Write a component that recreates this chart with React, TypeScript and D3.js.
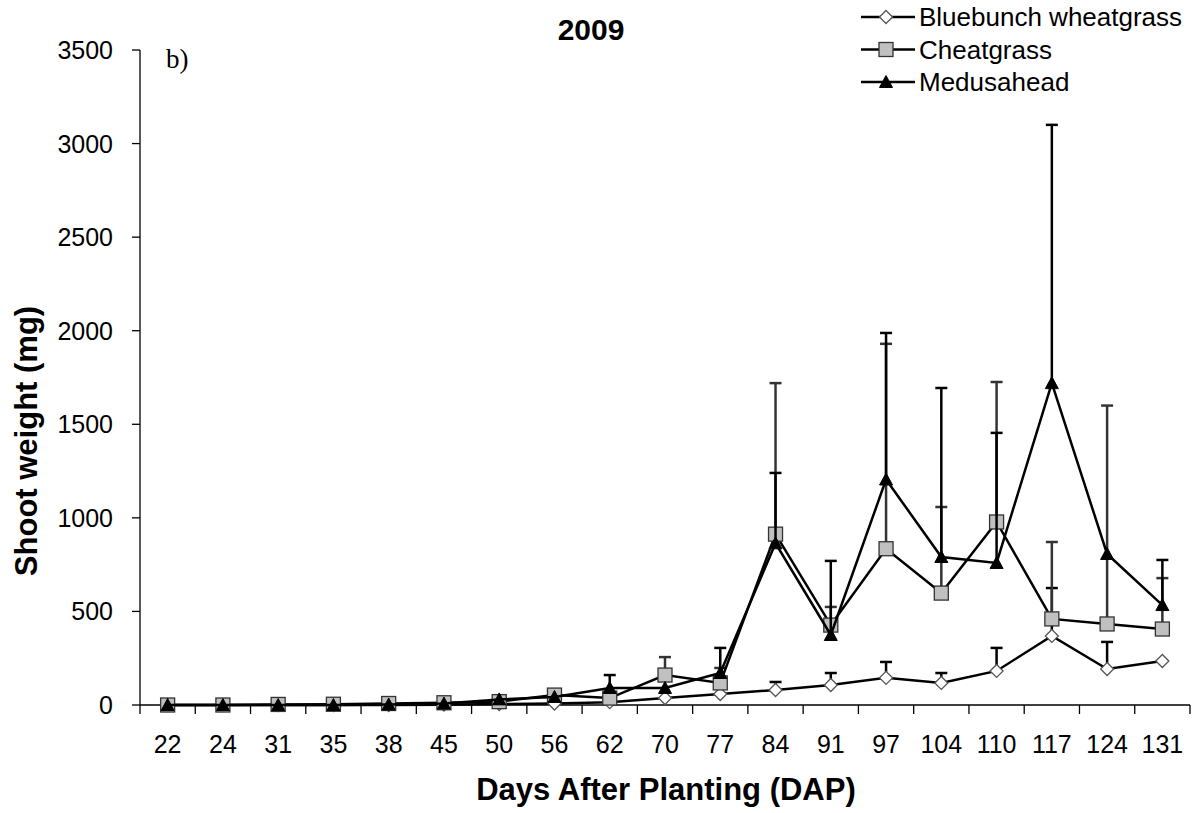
import React from "react";
import * as d3 from "d3";

// Days after planting (categorical x axis)
const days = ["22", "24", "31", "35", "38", "45", "50", "56", "62", "70", "77", "84", "91", "97", "104", "110", "117", "124", "131"];

// Mean shoot weight (mg) per species
const bluebunch = [0, 0, 0, 0, 0, 2, 5, 8, 15, 37, 59, 80, 107, 145, 118, 182, 369, 192, 235];
const cheatgrass = [0, 0, 3, 4, 8, 12, 18, 53, 37, 160, 118, 913, 427, 835, 598, 978, 460, 433, 406];
const medusahead = [0, 0, 0, 0, 3, 8, 30, 43, 91, 91, 171, 864, 374, 1205, 791, 759, 1720, 807, 534];

// Standard errors (plotted as upward bars only)
const bluebunchSE = [0, 0, 0, 0, 0, 0, 0, 0, 0, 0, 0, 43, 64, 85, 53, 123, 256, 145, 0];
const cheatgrassSE = [0, 0, 0, 0, 0, 0, 0, 0, 0, 96, 80, 807, 97, 1095, 460, 748, 411, 1167, 272];
const medusaheadSE = [0, 0, 0, 0, 0, 0, 0, 0, 69, 0, 134, 376, 396, 783, 903, 695, 1380, 0, 241];

const yTicks = [0, 500, 1000, 1500, 2000, 2500, 3000, 3500];

const FONT = "'Liberation Sans', Arial, sans-serif";

type Series = {
  name: string;
  values: number[];
  se: number[];
  marker: "diamond" | "square" | "triangle";
  errColor: string;
};

const series: Series[] = [
  { name: "Bluebunch wheatgrass", values: bluebunch, se: bluebunchSE, marker: "diamond", errColor: "#000" },
  { name: "Cheatgrass", values: cheatgrass, se: cheatgrassSE, marker: "square", errColor: "#333" },
  { name: "Medusahead", values: medusahead, se: medusaheadSE, marker: "triangle", errColor: "#000" },
];

function Marker({ kind, x, y }: { kind: Series["marker"]; x: number; y: number }) {
  if (kind === "diamond") {
    const r = 6.5;
    return (
      <path
        d={`M${x},${y - r}L${x + r},${y}L${x},${y + r}L${x - r},${y}Z`}
        fill="#fff"
        stroke="#555"
        strokeWidth={1.3}
      />
    );
  }
  if (kind === "square") {
    const s = 14;
    return <rect x={x - s / 2} y={y - s / 2} width={s} height={s} fill="#c0c0c0" stroke="#333" strokeWidth={1.3} />;
  }
  const h = 11;
  const w = 6.5;
  return <path d={`M${x},${y - h / 2 - 1}L${x + w},${y + h / 2}L${x - w},${y + h / 2}Z`} fill="#000" stroke="#000" strokeWidth={1} />;
}

export default function App() {
  const width = 1199;
  const height = 813;
  const left = 140;
  const right = 1190;
  const top = 50;
  const bottom = 705;

  const x = d3.scaleBand<string>().domain(days).range([left, right]).paddingInner(0).paddingOuter(0);
  const y = d3.scaleLinear().domain([0, 3500]).range([bottom, top]);
  const cx = (d: string) => (x(d) as number) + x.bandwidth() / 2;

  const line = d3
    .line<number>()
    .x((_, i) => cx(days[i]))
    .y((v) => y(v));

  const boundaries = days.map((d) => x(d) as number).concat([right]);

  return (
    <svg width={width} height={height} style={{ position: "absolute", left: 0, top: 0, background: "#fff" }}>
      <rect x={0} y={0} width={width} height={height} fill="#fff" />

      {/* Title and panel letter */}
      <text x={591} y={40} textAnchor="middle" fontFamily={FONT} fontWeight="bold" fontSize={30}>
        2009
      </text>
      <text x={166} y={68} fontFamily="'Liberation Serif', 'Times New Roman', serif" fontSize={27}>
        b)
      </text>

      {/* Y axis */}
      <line x1={left} x2={left} y1={y(3500)} y2={bottom} stroke="#000" strokeWidth={1.3} />
      {yTicks.map((t) => (
        <g key={t}>
          <line x1={left - 8} x2={left} y1={y(t)} y2={y(t)} stroke="#000" strokeWidth={1.3} />
          <text x={113} y={y(t) + 9} textAnchor="end" fontFamily={FONT} fontSize={25}>
            {t}
          </text>
        </g>
      ))}

      {/* X axis */}
      <line x1={left} x2={right} y1={bottom} y2={bottom} stroke="#000" strokeWidth={1.3} />
      {boundaries.map((b, i) => (
        <line key={i} x1={b} x2={b} y1={bottom} y2={bottom + 9} stroke="#000" strokeWidth={1.3} />
      ))}
      {days.map((d) => (
        <text key={d} x={cx(d)} y={753} textAnchor="middle" fontFamily={FONT} fontSize={25}>
          {d}
        </text>
      ))}

      {/* Axis titles */}
      <text x={666} y={800} textAnchor="middle" fontFamily={FONT} fontWeight="bold" fontSize={31}>
        Days After Planting (DAP)
      </text>
      <text
        transform={`translate(37, ${441}) rotate(-90)`}
        textAnchor="middle"
        fontFamily={FONT}
        fontWeight="bold"
        fontSize={31}
      >
        Shoot weight (mg)
      </text>

      {/* Series: error bars, lines, markers */}
      {series.map((s) => (
        <g key={s.name}>
          {s.values.map((v, i) =>
            s.se[i] > 0 ? (
              <g key={i}>
                <line x1={cx(days[i])} x2={cx(days[i])} y1={y(v)} y2={y(v + s.se[i])} stroke={s.errColor} strokeWidth={2.5} />
                <line
                  x1={cx(days[i]) - 6}
                  x2={cx(days[i]) + 6}
                  y1={y(v + s.se[i])}
                  y2={y(v + s.se[i])}
                  stroke={s.errColor}
                  strokeWidth={2.5}
                />
              </g>
            ) : null
          )}
          <path d={line(s.values) as string} fill="none" stroke="#000" strokeWidth={2.5} />
          {s.values.map((v, i) => (
            <Marker key={i} kind={s.marker} x={cx(days[i])} y={y(v)} />
          ))}
        </g>
      ))}

      {/* Legend */}
      {series.map((s, i) => {
        const ly = 17 + i * 32.5;
        return (
          <g key={s.name}>
            <line x1={861} x2={915} y1={ly} y2={ly} stroke="#000" strokeWidth={2.5} />
            <Marker kind={s.marker} x={886} y={ly} />
            <text x={919} y={ly + 9} fontFamily={FONT} fontSize={26}>
              {s.name}
            </text>
          </g>
        );
      })}
    </svg>
  );
}
